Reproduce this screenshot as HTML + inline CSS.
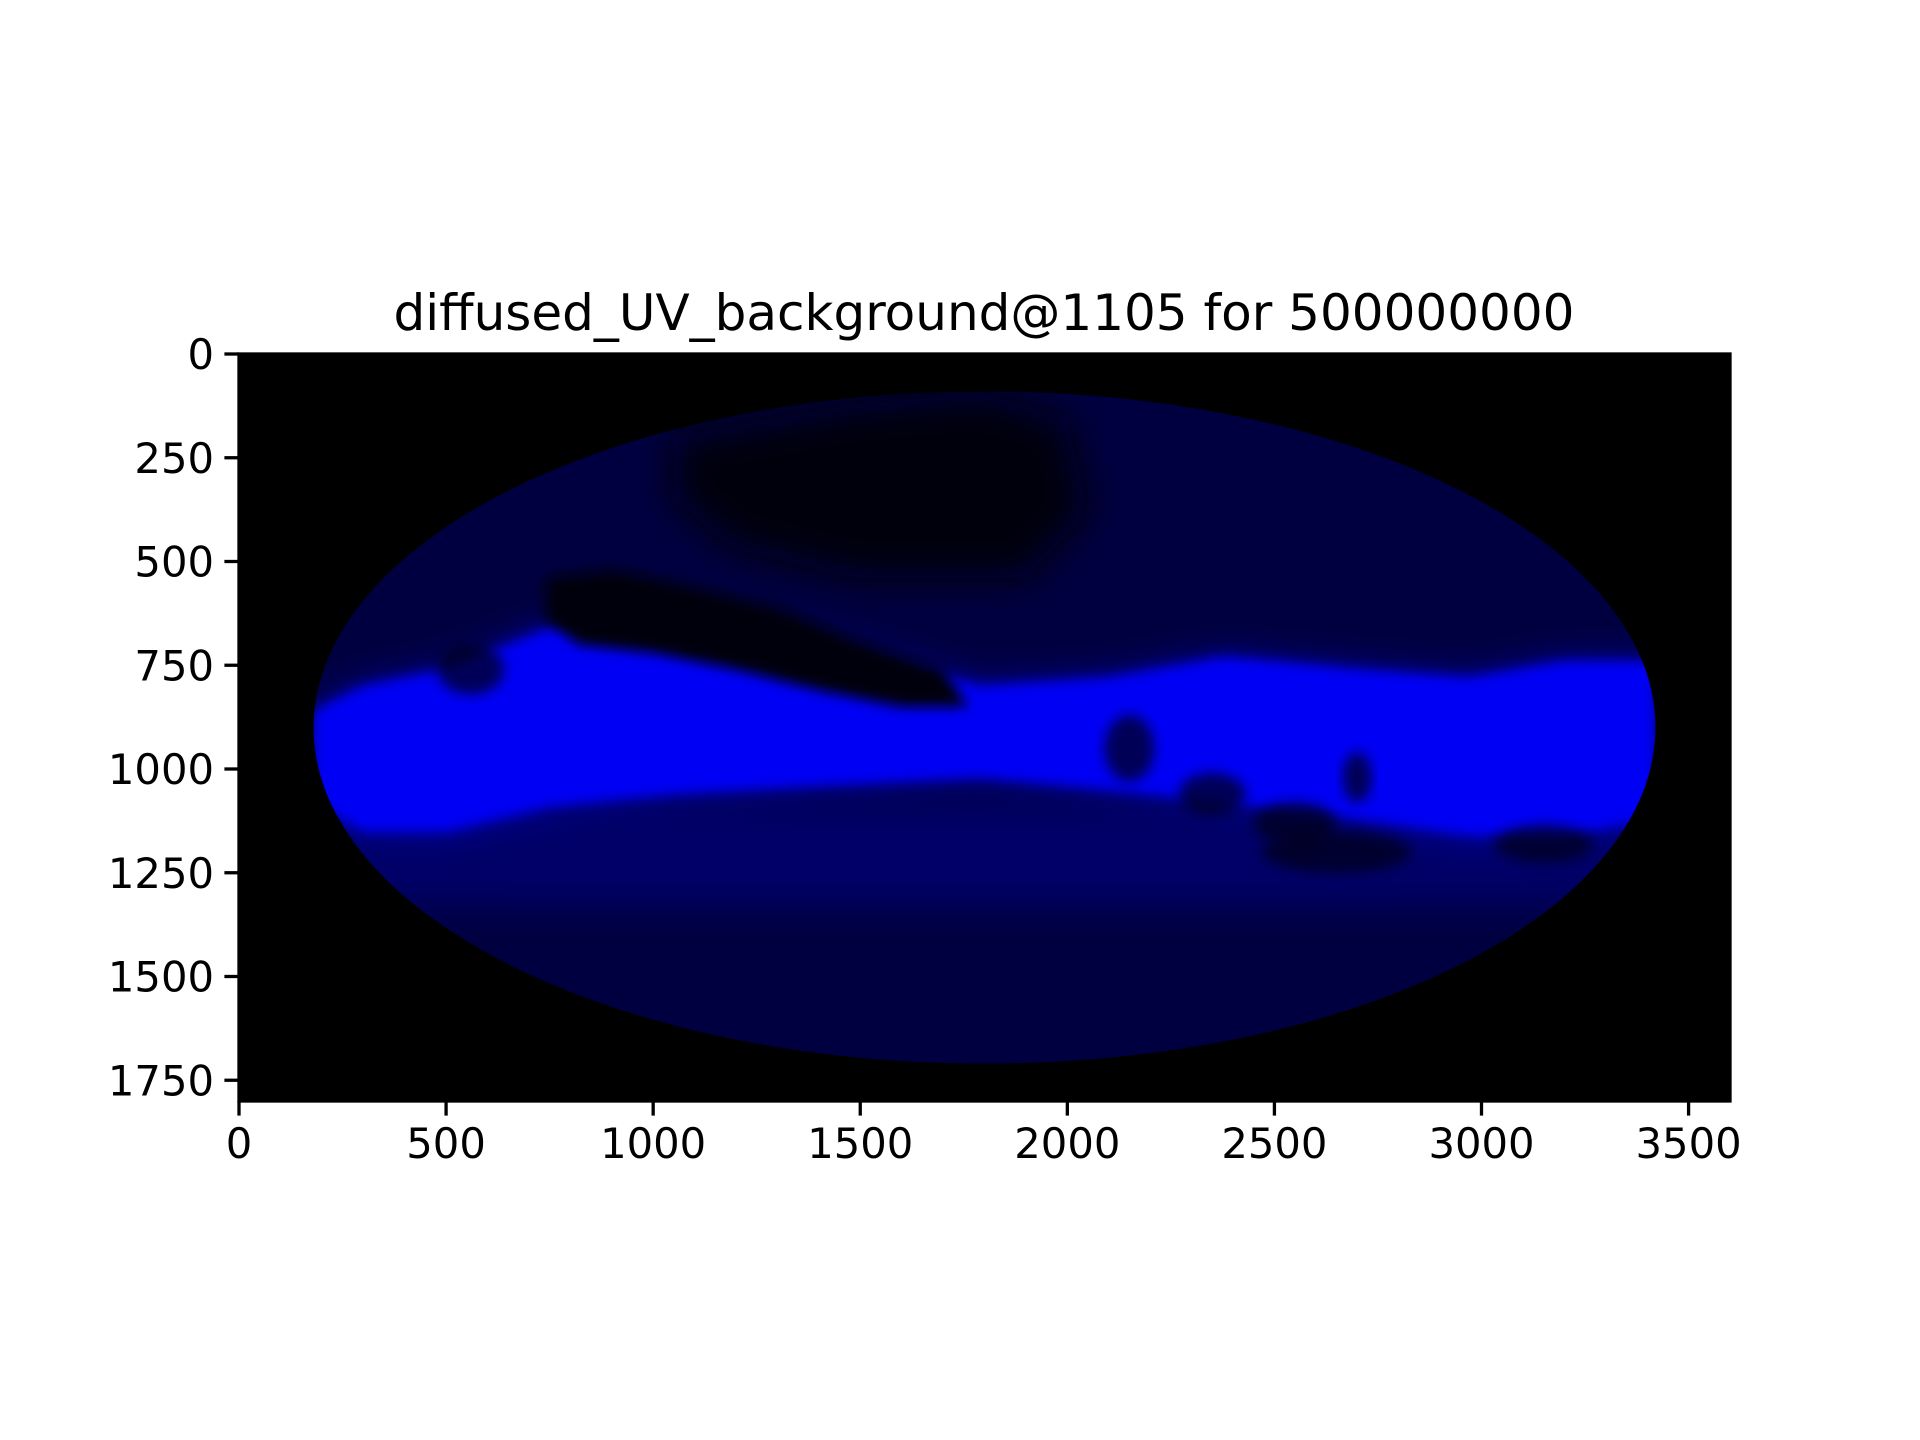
<!DOCTYPE html>
<html><head><meta charset="utf-8"><style>
html,body{margin:0;padding:0;background:#fff;}
svg{display:block;}
text{font-family:"DejaVu Sans","Liberation Sans",sans-serif;fill:#000;}
</style></head><body>
<svg id="chart" width="1920" height="1440" viewBox="0 0 1920 1440" xmlns="http://www.w3.org/2000/svg">
<defs>
<filter id="blur1" x="-20%" y="-50%" width="140%" height="200%"><feGaussianBlur stdDeviation="18"/></filter>
<filter id="blur2" x="-20%" y="-50%" width="140%" height="200%"><feGaussianBlur stdDeviation="6"/></filter>
<clipPath id="ellClip"><ellipse id="clipEll"/></clipPath>
</defs>
<rect id="plotBg" fill="#000"/>
<g id="sky" clip-path="url(#ellClip)"></g>
<g id="axes"></g>
<text x="984" y="330" font-size="50" text-anchor="middle">diffused_UV_background@1105 for 500000000</text>
</svg>
<script>
const xTicks=[0,500,1000,1500,2000,2500,3000,3500];
const yTicks=[0,250,500,750,1000,1250,1500,1750];
const xDomain=[0,3600];
const yDomain=[0,1800];
// sky ellipse (data coords)
const skyCenter=[1800,900];
const skyRadii=[1620,810];
// bright galactic band: x positions, top and bottom edges (data coords)
const bandX=[180,300,500,750,1050,1400,1790,2100,2380,2700,2970,3200,3420];
const bandTop=[860,800,760,660,610,690,800,780,730,760,780,740,740];
const bandBottom=[1080,1150,1150,1090,1060,1040,1020,1050,1080,1120,1160,1160,1120];
// dark dust lane above band
const dustX=[740,900,1100,1300,1500,1700,1760,1600,1400,1200,1000,820,740];
const dustY=[540,520,560,610,690,760,850,850,810,760,720,700,640];
// dark patches in band (center x, center y, rx, ry)
const patchX=[2150,2350,2550,2700,3150,560,2650];
const patchY=[950,1060,1130,1020,1180,760,1200];
const patchRX=[60,80,100,35,120,80,180];
const patchRY=[80,50,50,60,45,60,50];
// upper dark region
const voidX=[1050,1500,1800,2000,2050,1900,1500,1200,1050];
const voidY=[200,120,95,160,380,540,540,470,350];

const L=239,R=1730,T=354,B=1101;
const sx=v=>L+(v-xDomain[0])/(xDomain[1]-xDomain[0])*(R-L);
const sy=v=>T+(v-yDomain[0])/(yDomain[1]-yDomain[0])*(B-T);
const NS='http://www.w3.org/2000/svg';
function mk(tag,attrs,parent){const e=document.createElementNS(NS,tag);for(const k in attrs)e.setAttribute(k,attrs[k]);parent.appendChild(e);return e;}
const bg=document.getElementById('plotBg');
bg.setAttribute('x',L);bg.setAttribute('y',T);bg.setAttribute('width',R-L);bg.setAttribute('height',B-T);
const ce=document.getElementById('clipEll');
ce.setAttribute('cx',sx(skyCenter[0]));ce.setAttribute('cy',sy(skyCenter[1]));
ce.setAttribute('rx',sx(skyCenter[0]+skyRadii[0])-sx(skyCenter[0]));ce.setAttribute('ry',sy(skyCenter[1]+skyRadii[1])-sy(skyCenter[1]));
const sky=document.getElementById('sky');
const base=mk('ellipse',{cx:sx(skyCenter[0]),cy:sy(skyCenter[1]),rx:sx(skyCenter[0]+skyRadii[0])-sx(skyCenter[0]),ry:sy(skyCenter[1]+skyRadii[1])-sy(skyCenter[1]),fill:'#000040'},sky);


const glow=mk('rect',{x:L,y:sy(1080),width:R-L,height:sy(1330)-sy(1080),fill:'#000090',opacity:0.5,filter:'url(#blur1)'},sky);


let vp=voidX.map((x,i)=>(i?'L':'M')+sx(x)+','+sy(voidY[i])).join(' ')+'Z';
const vo=mk('path',{d:vp,fill:'#000008',filter:'url(#blur1)'},sky);


let bp=bandX.map((x,i)=>(i?'L':'M')+sx(x)+','+sy(bandTop[i])).join(' ');
for(let i=bandX.length-1;i>=0;i--)bp+=' L'+sx(bandX[i])+','+sy(bandBottom[i]);
bp+='Z';
const bandGlow=mk('path',{d:bp,fill:'#0000c0',opacity:0.8,filter:'url(#blur1)'},sky);


const band=mk('path',{d:bp,fill:'#0000f4',filter:'url(#blur2)'},sky);


let dp=dustX.map((x,i)=>(i?'L':'M')+sx(x)+','+sy(dustY[i])).join(' ')+'Z';
const dust=mk('path',{d:dp,fill:'#000010',filter:'url(#blur2)'},sky);


patchX.forEach((x,i)=>{
  const p=mk('ellipse',{cx:sx(x),cy:sy(patchY[i]),rx:sx(x+patchRX[i])-sx(x),ry:sy(patchY[i]+patchRY[i])-sy(patchY[i]),fill:'#000018',opacity:0.7,filter:'url(#blur2)'},sky);
  
  
});
const ax=document.getElementById('axes');
const frame=mk('rect',{x:L,y:T,width:R-L,height:B-T,fill:'none',stroke:'#000',"stroke-width":3.3},ax);


xTicks.forEach(v=>{
  const t=mk('line',{x1:sx(v),x2:sx(v),y1:B,y2:B+14.6,stroke:'#000',"stroke-width":3.3},ax);
  
  
  const l=mk('text',{x:sx(v),y:B+57,"font-size":41.7,"text-anchor":"middle"},ax);
  l.textContent=v;
  
  
});
yTicks.forEach(v=>{
  const t=mk('line',{x1:L-14.6,x2:L,y1:sy(v),y2:sy(v),stroke:'#000',"stroke-width":3.3},ax);
  
  
  const l=mk('text',{x:L-25,y:sy(v)+15,"font-size":41.7,"text-anchor":"end"},ax);
  l.textContent=v;
  
  
});
</script>
</body></html>
